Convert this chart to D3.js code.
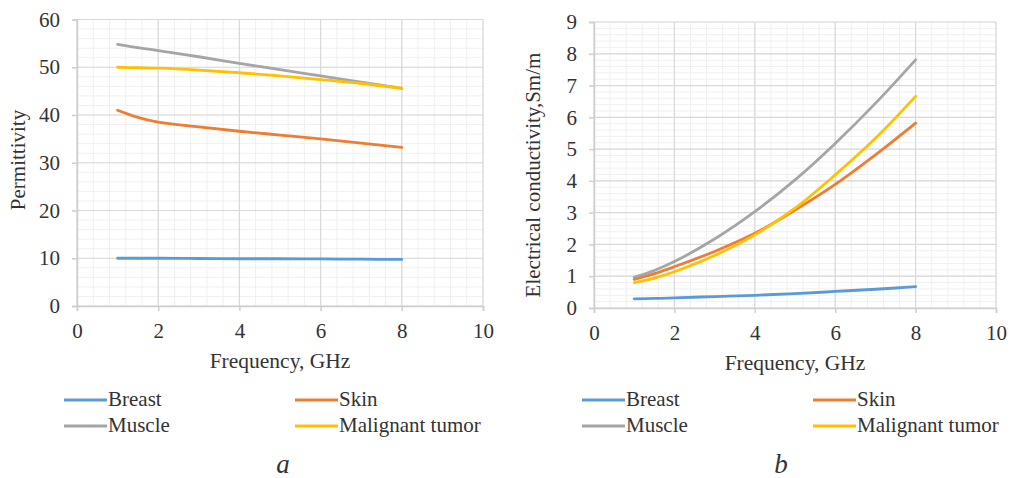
<!DOCTYPE html>
<html>
<head>
<meta charset="utf-8">
<script src="https://cdn.jsdelivr.net/npm/d3@7"></script>
<style>
  body { margin: 0; background: #fff; }
  svg { font-family: "Liberation Serif", "Times New Roman", serif; }
</style>
</head>
<body>
<svg id="chart" width="1011" height="478"></svg>
<script>
// frequency points (GHz)
var freq = [1, 1.5, 2, 3, 4, 5, 6, 7, 8]

var seriesNames = ["Breast", "Skin", "Muscle", "Malignant tumor"]
var seriesColors = ["#5B9BD5", "#ED7D31", "#A5A5A5", "#FFC000"]

// permittivity (chart a)
var permBreast = [10.0, 10.0, 10.0, 9.95, 9.9, 9.9, 9.85, 9.8, 9.75]
var permSkin = [41.0, 39.5, 38.5, 37.5, 36.6, 35.8, 35.0, 34.1, 33.2]
var permMuscle = [54.8, 54.1, 53.5, 52.2, 50.8, 49.5, 48.2, 46.9, 45.6]
var permTumor = [50.0, 49.9, 49.8, 49.4, 48.85, 48.2, 47.4, 46.6, 45.6]

// conductivity (chart b)
var condBreast = [0.29, 0.30, 0.32, 0.36, 0.40, 0.45, 0.52, 0.59, 0.67]
var condSkin = [0.9, 1.08, 1.3, 1.78, 2.35, 3.08, 3.89, 4.82, 5.82]
var condMuscle = [0.97, 1.18, 1.46, 2.17, 3.03, 4.03, 5.18, 6.44, 7.81]
var condTumor = [0.8, 0.94, 1.14, 1.65, 2.3, 3.14, 4.19, 5.34, 6.66]

var xTicks = [0, 2, 4, 6, 8, 10]

var svg = d3.select('#chart')

function drawChart(opt) {
  var x = d3.scaleLinear().domain([0, 10]).range([opt.left, opt.right])
  var y = d3.scaleLinear().domain([0, opt.ymax]).range([opt.bottom, opt.top])
  var g = svg.append('g')

  // minor grid
  var minorX = d3.range(0, 10.001, 0.4)
  var minorY = d3.range(0, opt.ymax + 0.001, opt.yminor)
  g.selectAll('.mx').data(minorX).enter().append('line')
    .attr('x1', d => x(d)).attr('x2', d => x(d))
    .attr('y1', opt.top).attr('y2', opt.bottom)
    .attr('stroke', '#f0f0f0').attr('stroke-width', 1)
  g.selectAll('.my').data(minorY).enter().append('line')
    .attr('x1', opt.left).attr('x2', opt.right)
    .attr('y1', d => y(d)).attr('y2', d => y(d))
    .attr('stroke', '#f0f0f0').attr('stroke-width', 1)

  // major grid
  g.selectAll('.gx').data(xTicks).enter().append('line')
    .attr('x1', d => x(d)).attr('x2', d => x(d))
    .attr('y1', opt.top).attr('y2', opt.bottom)
    .attr('stroke', '#d9d9d9').attr('stroke-width', 1.2)
  g.selectAll('.gy').data(opt.yTicks).enter().append('line')
    .attr('x1', opt.left).attr('x2', opt.right)
    .attr('y1', d => y(d)).attr('y2', d => y(d))
    .attr('stroke', '#d9d9d9').attr('stroke-width', 1.2)

  // axes
  var xAxis = g.append('g').attr('transform', 'translate(0,' + opt.bottom + ')')
    .call(d3.axisBottom(x).tickValues(xTicks).tickSize(5).tickPadding(12))
  var yAxis = g.append('g').attr('transform', 'translate(' + opt.left + ',0)')
    .call(d3.axisLeft(y).tickValues(opt.yTicks).tickSize(5).tickPadding(12))
  ;[xAxis, yAxis].forEach(function (a) {
    a.select('.domain').attr('stroke', '#cfcfcf').attr('stroke-width', 1.5)
    a.selectAll('.tick line').attr('stroke', '#cfcfcf').attr('stroke-width', 1.5)
    a.selectAll('.tick text').attr('fill', '#333').style('font-size', '21px')
      .style('font-family', '"Liberation Serif", serif')
  })

  // axis titles
  g.append('text').attr('x', (opt.left + opt.right) / 2).attr('y', opt.bottom + 62)
    .attr('text-anchor', 'middle').attr('fill', '#333').style('font-size', '21.5px')
    .text('Frequency, GHz')
  g.append('text')
    .attr('transform', 'translate(' + opt.ytitleX + ',' + opt.ytitleY + ') rotate(-90)')
    .attr('text-anchor', 'middle').attr('fill', '#333').style('font-size', '21px')
    .text(opt.ytitle)

  // lines
  var line = d3.line()
    .x(function (d, i) { return x(freq[i]) })
    .y(function (d) { return y(d) })
    .curve(d3.curveCatmullRom.alpha(0.5))
  opt.series.forEach(function (s, i) {
    g.append('path').datum(s)
      .attr('d', line)
      .attr('fill', 'none')
      .attr('stroke', seriesColors[i])
      .attr('stroke-width', 2.8)
      .attr('stroke-linecap', 'round')
  })

  // legend
  var lx = [opt.legendX, opt.legendX + 231]
  var ly = [400, 426]
  seriesNames.forEach(function (name, i) {
    var cx = lx[i % 2], cy = ly[Math.floor(i / 2)]
    g.append('line').attr('x1', cx).attr('x2', cx + 43).attr('y1', cy).attr('y2', cy)
      .attr('stroke', seriesColors[i]).attr('stroke-width', 3)
    g.append('text').attr('x', cx + 44).attr('y', cy + 6)
      .attr('fill', '#333').style('font-size', '21px').text(name)
  })

  // panel letter
  g.append('text').attr('x', opt.letterX).attr('y', 473)
    .attr('text-anchor', 'middle').attr('fill', '#333')
    .style('font-size', '27px').style('font-style', 'italic').text(opt.letter)
}

drawChart({
  left: 77, right: 483, top: 19.5, bottom: 306,
  ymax: 60, yminor: 2, yTicks: [0, 10, 20, 30, 40, 50, 60],
  ytitle: 'Permittivity', ytitleX: 25, ytitleY: 160,
  series: [permBreast, permSkin, permMuscle, permTumor],
  legendX: 64, letterX: 283, letter: 'a'
})

drawChart({
  left: 594, right: 996, top: 22, bottom: 308,
  ymax: 9, yminor: 0.2, yTicks: [0, 1, 2, 3, 4, 5, 6, 7, 8, 9],
  ytitle: 'Electrical conductivity,Sm/m', ytitleX: 540, ytitleY: 175,
  series: [condBreast, condSkin, condMuscle, condTumor],
  legendX: 582, letterX: 781, letter: 'b'
})
</script>
</body>
</html>
